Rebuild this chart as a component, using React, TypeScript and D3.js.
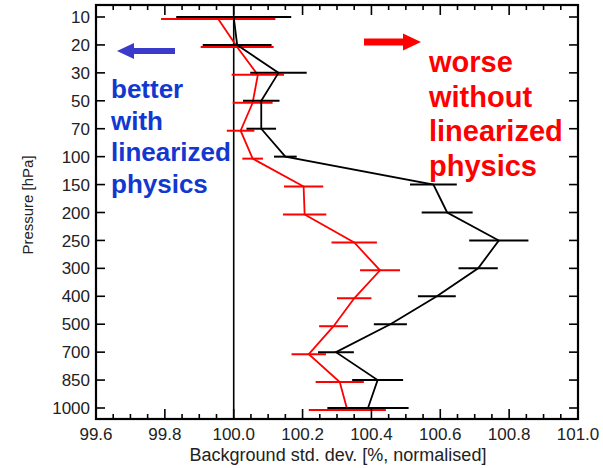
import React from "react";
import * as d3 from "d3";

const levels = ["10", "20", "30", "50", "70", "100", "150", "200", "250", "300", "400", "500", "700", "850", "1000"];
const blackValues = [100.0, 100.01, 100.13, 100.08, 100.08, 100.15, 100.58, 100.62, 100.77, 100.71, 100.59, 100.455, 100.297, 100.418, 100.39];
const blackErrors = [0.167, 0.1, 0.082, 0.053, 0.043, 0.033, 0.068, 0.074, 0.086, 0.057, 0.055, 0.048, 0.052, 0.074, 0.118];
const redValues = [99.955, 100.01, 100.07, 100.055, 100.02, 100.055, 100.203, 100.206, 100.35, 100.425, 100.35, 100.29, 100.218, 100.308, 100.33];
const redErrors = [0.166, 0.106, 0.076, 0.058, 0.04, 0.03, 0.057, 0.063, 0.066, 0.058, 0.05, 0.042, 0.05, 0.07, 0.112];
const xTicks = [99.6, 99.8, 100.0, 100.2, 100.4, 100.6, 100.8, 101.0];
const blueText = ["better", "with", "linearized", "physics"];
const redText = ["worse", "without", "linearized", "physics"];

const W = 603, H = 468;
const L = 96, R = 578, T = 5, B = 419;
const FONT = "'Liberation Sans', Arial, Helvetica, sans-serif";

export default function App() {
  const x = d3.scaleLinear().domain([99.6, 101.0]).range([L, R]);
  const y = d3.scalePoint<string>().domain(levels).range([17, 408]);
  const minor = d3.range(0, 29).map((i) => 99.6 + i * 0.05);
  const line = d3.line<[number, number]>().x((d) => d[0]).y((d) => d[1]);

  const blackPts: [number, number][] = levels.map((l, i) => [x(blackValues[i]), y(l)!]);
  const redPts: [number, number][] = levels.map((l, i) => [x(redValues[i]), y(l)! + 2]);

  return (
    <svg width={W} height={H} style={{ position: "absolute", left: 0, top: 0, background: "#fff" }} fontFamily={FONT}>
      {/* zero reference */}
      <line x1={x(100)} x2={x(100)} y1={T} y2={B} stroke="#000" strokeWidth={1.6} />

      {/* red series */}
      {levels.map((l, i) => (
        <line key={"re" + l} x1={x(redValues[i] - redErrors[i])} x2={x(redValues[i] + redErrors[i])}
          y1={y(l)! + 2} y2={y(l)! + 2} stroke="#ff0000" strokeWidth={2} />
      ))}
      <path d={line(redPts)!} fill="none" stroke="#ff0000" strokeWidth={1.8} />

      {/* black series */}
      {levels.map((l, i) => (
        <line key={"be" + l} x1={x(blackValues[i] - blackErrors[i])} x2={x(blackValues[i] + blackErrors[i])}
          y1={y(l)!} y2={y(l)!} stroke="#000" strokeWidth={2} />
      ))}
      <path d={line(blackPts)!} fill="none" stroke="#000" strokeWidth={1.8} />

      {/* axes frame */}
      <rect x={L} y={T} width={R - L} height={B - T} fill="none" stroke="#000" strokeWidth={2.2} />
      {minor.map((v, i) => {
        const major = i % 4 === 0;
        const len = major ? 10 : 5;
        return (
          <g key={"xt" + i}>
            <line x1={x(v)} x2={x(v)} y1={B} y2={B - len} stroke="#000" strokeWidth={1.6} />
            <line x1={x(v)} x2={x(v)} y1={T} y2={T + len} stroke="#000" strokeWidth={1.6} />
          </g>
        );
      })}
      {levels.map((l) => (
        <g key={"yt" + l}>
          <line x1={L} x2={L + 9} y1={y(l)!} y2={y(l)!} stroke="#000" strokeWidth={1.6} />
          <line x1={R} x2={R - 9} y1={y(l)!} y2={y(l)!} stroke="#000" strokeWidth={1.6} />
          <text x={90} y={y(l)!} dy="0.36em" textAnchor="end" fontSize={17} fill="#222">{l}</text>
        </g>
      ))}
      {xTicks.map((v) => (
        <text key={"xl" + v} x={x(v)} y={440} textAnchor="middle" fontSize={17} fill="#222">{v.toFixed(1)}</text>
      ))}
      <text x={338} y={461} textAnchor="middle" fontSize={18} fill="#222">Background std. dev. [%, normalised]</text>
      <text transform="translate(33,205) rotate(-90)" textAnchor="middle" fontSize={15} fill="#222">Pressure [hPa]</text>

      {/* annotations */}
      <path d="M117,51 L134,43 L134,48 L175,48 L175,54 L134,54 L134,59 Z" fill="#3a3acb" />
      <path d="M421,42 L403,33.5 L403,38.5 L364,38.5 L364,45.5 L403,45.5 L403,50.5 Z" fill="#ff0000" />
      {blueText.map((t, i) => (
        <text key={"bt" + i} x={111} y={98 + i * 31.5} fontSize={26} fontWeight="bold" fill="#1238d0">{t}</text>
      ))}
      {redText.map((t, i) => (
        <text key={"rt" + i} x={429} y={72 + i * 34.5} fontSize={29} fontWeight="bold" fill="#ff0000">{t}</text>
      ))}
    </svg>
  );
}
